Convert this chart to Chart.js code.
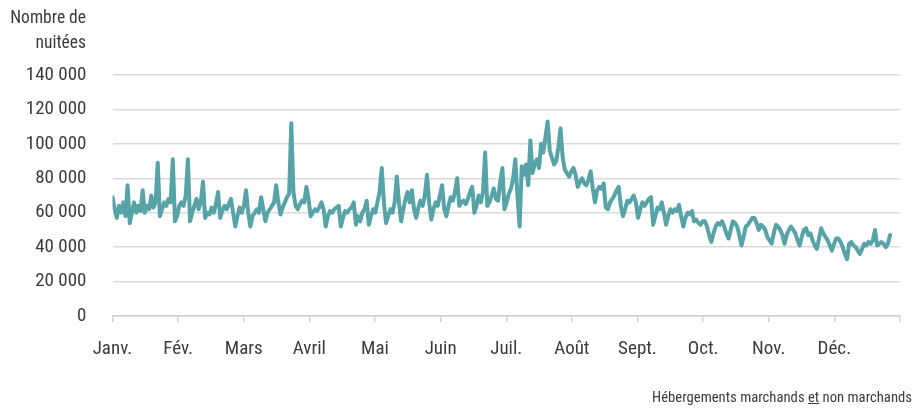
<!DOCTYPE html>
<html>
<head>
<meta charset="utf-8">
<script src="https://cdn.jsdelivr.net/npm/chart.js@4"></script>
<style>
  body { margin: 0; background: #fff; }
  #wrap { position: relative; width: 923px; height: 414px; }
  .txt { position: absolute; font-family: 'Roboto Condensed', 'Liberation Sans Narrow', Roboto, sans-serif; color: #3c3c3c; }
  #ytitle { right: 837px; top: 5px; text-align: right; font-size: 17.5px; line-height: 25px; }
  #note { right: 11px; top: 388px; font-size: 14.7px; }
</style>
</head>
<body>
<div id="wrap">
  <canvas id="chart" width="923" height="414"></canvas>
  <div class="txt" id="ytitle">Nombre de<br>nuitées</div>
  <div class="txt" id="note">Hébergements marchands <u>et</u> non marchands</div>
</div>
<script>
var mois = ['Janv.', 'Fév.', 'Mars', 'Avril', 'Mai', 'Juin', 'Juil.', 'Août', 'Sept.', 'Oct.', 'Nov.', 'Déc.', '']

// nuitées par jour
var janvier = [69000, 62000, 57000, 64000, 60000, 66000, 58000, 76000, 54000, 60000, 66000, 60000, 64000, 61000, 73000, 60000,
  64000, 62000, 70000, 63000, 66000, 89000, 58000, 62000, 66000, 64000, 68000, 66000, 91000, 55000, 58000]
var fevrier = [64000, 66000, 64000, 70000, 91000, 55000, 60000, 64000, 68000, 62000, 66000, 78000, 57000, 60000, 59000, 63000,
  60000, 65000, 72000, 57000, 61000, 64000, 62000, 65000, 68000, 60000, 52000, 58000]
var mars = [63000, 60000, 64000, 73000, 60000, 52000, 58000, 60000, 62000, 60000, 69000, 62000, 55000, 60000, 62000, 64000,
  66000, 76000, 66000, 59000, 63000, 66000, 69000, 71000, 112000, 72000, 64000, 62000, 65000, 67000, 66000]
var avril = [75000, 68000, 58000, 60000, 62000, 61000, 63000, 66000, 62000, 52000, 58000, 61000, 60000, 62000, 63000, 64000,
  52000, 57000, 61000, 60000, 62000, 63000, 66000, 53000, 58000, 55000, 60000, 62000, 67000, 53000]
var mai = [58000, 62000, 60000, 66000, 72000, 86000, 66000, 54000, 58000, 62000, 60000, 66000, 81000, 66000, 55000, 62000,
  68000, 72000, 66000, 73000, 62000, 57000, 63000, 67000, 64000, 70000, 82000, 66000, 56000, 62000, 66000]
var juin = [64000, 70000, 76000, 62000, 58000, 64000, 69000, 67000, 72000, 80000, 64000, 66000, 67000, 65000, 68000, 72000,
  75000, 60000, 64000, 70000, 66000, 72000, 95000, 64000, 66000, 70000, 74000, 68000, 67000, 78000]
var juillet = [86000, 62000, 66000, 71000, 74000, 80000, 91000, 70000, 52000, 87000, 82000, 88000, 76000, 102000, 83000, 88000,
  91000, 86000, 100000, 95000, 104000, 113000, 96000, 92000, 88000, 90000, 98000, 109000, 92000, 85000, 83000]
var aout = [81000, 84000, 86000, 82000, 75000, 78000, 80000, 77000, 76000, 79000, 84000, 74000, 66000, 73000, 75000, 74000,
  77000, 63000, 62000, 66000, 68000, 70000, 73000, 75000, 64000, 58000, 62000, 67000, 66000, 68000, 70000]
var septembre = [66000, 57000, 62000, 66000, 64000, 66000, 68000, 69000, 53000, 58000, 63000, 62000, 66000, 60000, 53000, 58000,
  62000, 60000, 62000, 61000, 64500, 58000, 52000, 57000, 60000, 59000, 61000, 55000, 56000, 54000]
var octobre = [53000, 55000, 55000, 52000, 47000, 43000, 48000, 52000, 54000, 53000, 55000, 52000, 48000, 45000, 50000, 55000,
  54000, 52000, 47000, 41000, 46000, 52000, 53000, 55000, 57000, 57000, 54000, 50000, 53000, 52000, 50000]
var novembre = [46000, 44000, 42000, 48000, 53000, 52000, 50000, 47000, 42000, 47000, 50000, 52000, 50000, 48000, 44000, 41000,
  46000, 50000, 51000, 47000, 48000, 44000, 41000, 39000, 45000, 51000, 48000, 46000, 44000, 41000]
var decembre = [38000, 42000, 45000, 45000, 43000, 40000, 36000, 33000, 42000, 43000, 41000, 40000, 38000, 36000, 39000, 42000,
  41000, 43000, 42000, 44000, 50000, 41000, 42000, 43000, 42000, 40000, 42000, 47000]

var nuitees = [].concat(janvier, fevrier, mars, avril, mai, juin, juillet, aout, septembre, octobre, novembre, decembre)
var xMax = 365.6
var police = "'Roboto Condensed', 'Liberation Sans Narrow', Roboto, sans-serif"

function milliers(v) {
    return String(v).replace(/\B(?=(\d{3})+(?!\d))/g, ' ');
}

new Chart(document.getElementById('chart'), {
    type: 'line',
    data: {
        datasets: [{
            data: nuitees.map(function (v, i) { return { x: i, y: v }; }),
            borderColor: '#57a3a7',
            borderWidth: 4,
            borderJoinStyle: 'round',
            borderCapStyle: 'round',
            pointRadius: 0,
            tension: 0,
            fill: false
        }]
    },
    options: {
        responsive: false,
        animation: false,
        layout: { padding: { top: 75, right: 23, left: 0, bottom: 0 } },
        plugins: { legend: { display: false }, tooltip: { enabled: false } },
        scales: {
            x: {
                type: 'linear',
                min: 0,
                max: xMax,
                afterBuildTicks: function (axis) {
                    axis.ticks = mois.map(function (m, k) { return { value: k * xMax / 12 }; });
                },
                afterFit: function (axis) { axis.height = 98; },
                grid: { drawOnChartArea: false, drawTicks: true, tickLength: 6, color: '#cfcfcf', lineWidth: 1.5 },
                border: { display: true, color: '#cfcfcf', width: 1.5 },
                ticks: {
                    autoSkip: false,
                    maxRotation: 0,
                    padding: 16,
                    color: '#3c3c3c',
                    font: { family: police, size: 19 },
                    callback: function (v, k) { return mois[k]; }
                }
            },
            y: {
                min: 0,
                max: 140000,
                afterFit: function (axis) { axis.width = 112.5; },
                grid: { color: '#dadada', lineWidth: 1.5, drawTicks: false },
                border: { display: false },
                ticks: {
                    stepSize: 20000,
                    padding: 26,
                    color: '#3c3c3c',
                    font: { family: police, size: 19 },
                    callback: function (v) { return milliers(v); }
                }
            }
        }
    }
});
</script>
</body>
</html>
